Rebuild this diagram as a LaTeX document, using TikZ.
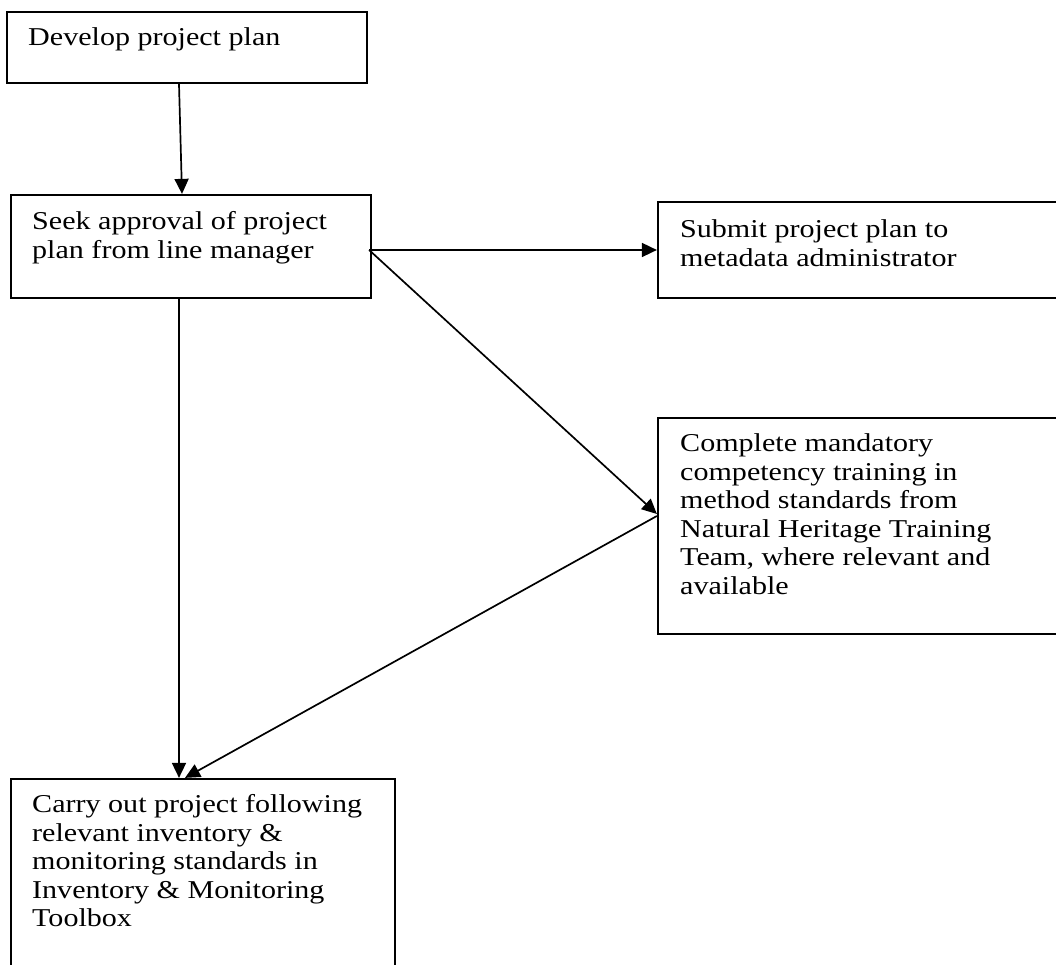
\documentclass[tikz,border=0pt]{standalone}
\usepackage{fontspec}
\setmainfont{Liberation Serif}[FakeStretch=1.17]
\usetikzlibrary{arrows.meta}
\begin{document}
\begin{tikzpicture}[x=1bp,y=1bp,
  box/.style={draw=black, line width=2.2bp, rectangle, inner sep=0pt, anchor=center},
  txt/.style={inner sep=0pt, anchor=base west, font=\fontsize{25.7bp}{28.5bp}\selectfont},
  conn/.style={draw=black, line width=1.7bp, -{Triangle[length=15bp,width=14bp]}}]
\fill[white] (0,0) rectangle (1056,965);
\useasboundingbox (0,0) rectangle (1056,965);
\clip (0,0) rectangle (1056,965);

% boxes
\node[box, minimum width=360bp, minimum height=71bp]  (b1) at (187,917.5) {};
\node[box, minimum width=360bp, minimum height=103bp] (b2) at (191,718.5) {};
\node[box, minimum width=412bp, minimum height=96bp]  (b3) at (864,715) {};
\node[box, minimum width=412bp, minimum height=216bp] (b4) at (864,439) {};
\node[box, minimum width=384bp, minimum height=206bp] (b5) at (203,83) {};

% texts
\node[txt] (t1) at (28,919) {Develop project plan};
\node[txt] (t2) at (32,735) {\vtop{\hbox{Seek approval of project}\hbox{plan from line manager}}};
\node[txt] (t3) at (680,727) {\vtop{\hbox{Submit project plan to}\hbox{metadata administrator}}};
\node[txt] (t4) at (680,513) {\vtop{\hbox{Complete mandatory}\hbox{competency training in}\hbox{method standards from}\hbox{Natural Heritage Training}\hbox{Team, where relevant and}\hbox{available}}};
\node[txt] (t5) at (32,152) {\vtop{\hbox{Carry out project following}\hbox{relevant inventory \&}\hbox{monitoring standards in}\hbox{Inventory \& Monitoring}\hbox{Toolbox}}};

% connectors
\coordinate (split) at ([shift={(-3bp,-3.5bp)}]b2.east);
\draw[conn] ([xshift=-8bp]b1.south) -- ([xshift=-9bp]b2.north);
\draw[conn] (split) -- (b3.west);
\draw[conn] (split) -- ([yshift=12bp]b4.west);
\draw[conn] ([yshift=10bp]b4.west) -- ([xshift=-18bp]b5.north);
\draw[conn] ([xshift=-12bp]b2.south) -- ([xshift=-24bp]b5.north);
\end{tikzpicture}
\end{document}
